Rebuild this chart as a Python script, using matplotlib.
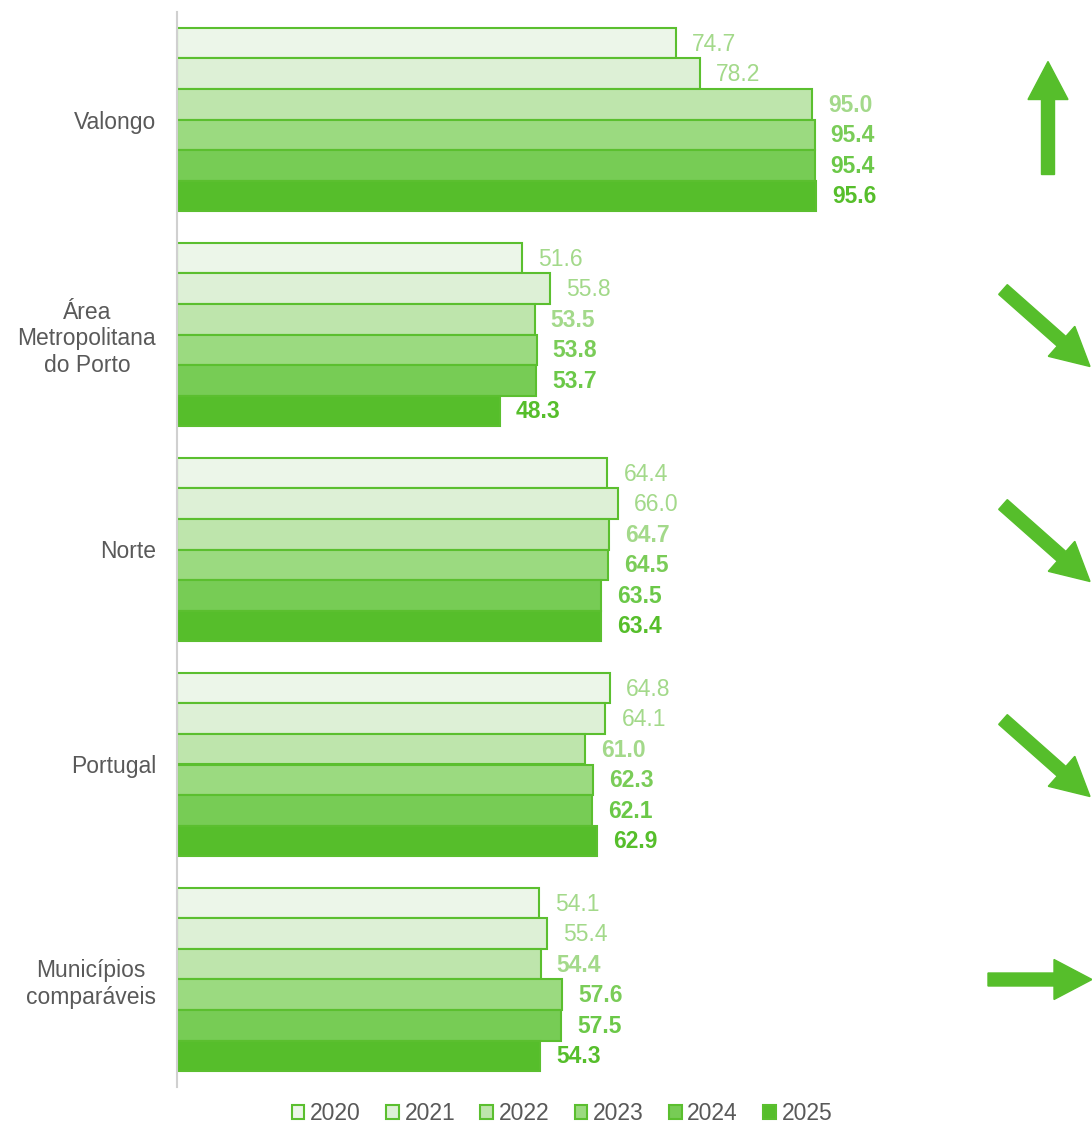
import numpy as np
import matplotlib.pyplot as plt
from matplotlib.patches import FancyArrow

plt.rcParams['font.family'] = ['Liberation Sans', 'DejaVu Sans']

regions = ['Valongo', 'Área\nMetropolitana\ndo Porto', 'Norte', 'Portugal', 'Municípios\ncomparáveis']
years = ['2020', '2021', '2022', '2023', '2024', '2025']
v2020 = [74.7, 51.6, 64.4, 64.8, 54.1]
v2021 = [78.2, 55.8, 66.0, 64.1, 55.4]
v2022 = [95.0, 53.5, 64.7, 61.0, 54.4]
v2023 = [95.4, 53.8, 64.5, 62.3, 57.6]
v2024 = [95.4, 53.7, 63.5, 62.1, 57.5]
v2025 = [95.6, 48.3, 63.4, 62.9, 54.3]
trend = ['up', 'down', 'down', 'down', 'flat']

series = [v2020, v2021, v2022, v2023, v2024, v2025]
fills = ['#ECF6E9', '#DDF0D6', '#BEE5AC', '#9BDA80', '#77CC55', '#56BE2B']
label_colors = ['#A3D98A', '#A3D98A', '#A3D98A', '#7ACC58', '#6BC848', '#56BE2B']
weights = ['normal', 'normal', 'bold', 'bold', 'bold', 'bold']
edge = '#5BBF2F'
green = '#56BE2B'

W, H = 1092, 1126
fig = plt.figure(figsize=(W / 100, H / 100), dpi=100)
# axes in pixel terms: left 177, right 1092, top 12, bottom 1087
ax = fig.add_axes([177 / W, 1 - 1087 / H, (1092 - 177) / W, (1087 - 12) / H])

bar_h = 0.142
n = len(regions)
y_centers = np.arange(n)
for i, (vals, fc) in enumerate(zip(series, fills)):
    offs = (i - 2.5) * bar_h
    ys = y_centers + offs
    ax.barh(ys, vals, height=bar_h, color=fc, edgecolor=edge, linewidth=1.5,
            label=years[i])
    for y, v in zip(ys, vals):
        ax.text(v + 2.4, y + 0.004, f'{v:.1f}', va='center', ha='left', fontsize=16.5,
                color=label_colors[i], fontweight=weights[i])

ax.set_ylim(n - 0.5, -0.5)
ax.set_xlim(0, (1092 - 177) / 6.684)
ax.set_yticks(y_centers)
ax.set_yticklabels(regions, fontsize=16.5, color='#595959', multialignment='center',
                   linespacing=1.2)
ax.tick_params(axis='y', length=0, pad=15)
ax.set_xticks([])
for s in ['top', 'right', 'bottom']:
    ax.spines[s].set_visible(False)
ax.spines['left'].set_color('#D0D0D0')
ax.spines['left'].set_linewidth(1.5)

leg = fig.legend(loc='center', bbox_to_anchor=(562 / W, 1 - 1114 / H), ncol=6,
                 frameon=False, fontsize=16.5, handlelength=0.55, handleheight=0.55,
                 handletextpad=0.25, columnspacing=1.1, labelcolor='#595959')

# trend arrows, in figure pixel coordinates
for i, t in enumerate(trend):
    yc = 12 + (i + 0.5) * 215
    if t == 'up':
        x0, y0, x1, y1 = 1048, yc + 55, 1048, yc - 58
    elif t == 'down':
        x0, y0, x1, y1 = 1003, yc - 45, 1090, yc + 32
    else:
        x0, y0, x1, y1 = 988, yc, 1092, yc
    arr = FancyArrow(x0, H - y0, x1 - x0, -(y1 - y0), width=13, head_width=40,
                     head_length=38, length_includes_head=True, color=green,
                     transform=None)
    fig.patches.append(arr)

fig.savefig('out.png', dpi=100)
